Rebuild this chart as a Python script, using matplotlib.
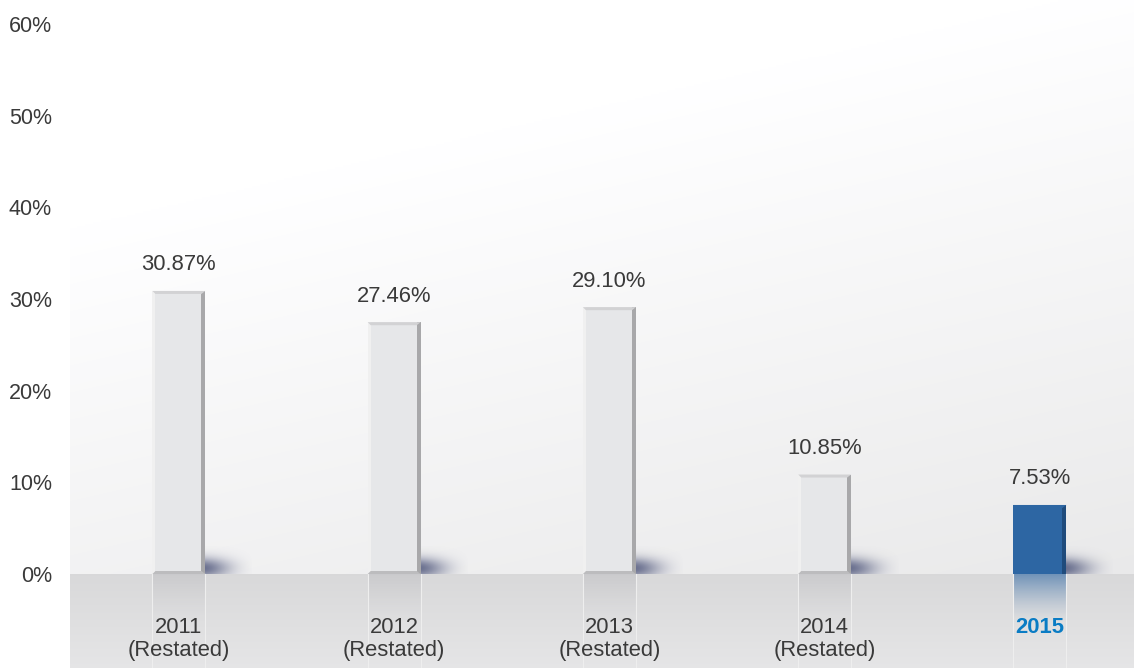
import numpy as np
import matplotlib.pyplot as plt
from matplotlib.patches import Rectangle, Polygon

years = ['2011', '2012', '2013', '2014', '2015']
subs = ['(Restated)', '(Restated)', '(Restated)', '(Restated)', '']
values = [30.87, 27.46, 29.10, 10.85, 7.53]
value_labels = ['30.87%', '27.46%', '29.10%', '10.85%', '7.53%']
yticks = [0, 10, 20, 30, 40, 50, 60]
highlight = 4

W, H = 1134, 668
fig = plt.figure(figsize=(W / 100, H / 100), dpi=100)
fig.patch.set_facecolor('white')

FONT = 'Liberation Sans'
TXT = '#3a3a3a'
FS = 15.8

left_px = 70
ax = fig.add_axes([left_px / W, 0, 1 - left_px / W, 1])
ymin, ymax = -10.25, 62.6
x0 = -0.506
x1 = 4.437
ax.set_xlim(x0, x1)
ax.set_ylim(ymin, ymax)
for s in ax.spines.values():
    s.set_visible(False)
ax.set_xticks([])
ax.set_yticks(yticks)
ax.set_yticklabels([f'{t}%' for t in yticks], fontsize=15.5, color=TXT, family=FONT)
ax.tick_params(axis='y', length=0, pad=13)

# diagonal backdrop: white at top-left fading to light gray toward the floor
nx, ny = 400, 300
px = np.linspace(left_px, W, nx)
py = np.linspace(0, 574, ny)
PX, PY = np.meshgrid(px, py)
t = np.clip((PY + 0.23 * (PX - left_px) - 230) / (574 + 0.23 * 1064 - 230), 0, 1)
g = 1 - 0.085 * t
bg = np.clip(np.dstack([g, g, g * 1.003]), 0, 1)
ax.imshow(bg, extent=[x0, x1, 0, ymax], origin='upper', aspect='auto',
          zorder=0, interpolation='bilinear')

# floor
fl = np.linspace(0.85, 0.9, 100)[:, None] * np.ones((1, 10))
floor = np.dstack([fl, fl, fl * 1.005])
ax.imshow(np.clip(floor, 0, 1), extent=[x0, x1, ymin, 0], origin='upper',
          aspect='auto', zorder=0.5)

bw = 0.246
unit_x = (x1 - x0) / (W - left_px)
unit_y = (ymax - ymin) / H

for i, v in enumerate(values):
    xl = i - bw / 2
    xr = i + bw / 2
    if i == highlight:
        face, side, top, edge = '#2d66a3', '#1f4b7c', '#2d66a3', '#3a73ad'
        refl = np.array([0.18, 0.40, 0.64])
    else:
        face, side, top, edge = '#e6e7e9', '#a8a8aa', '#d2d2d4', '#f0f0f0'
        refl = np.array([0.70, 0.70, 0.72])

    # shadow on the backdrop to the right of the bar base
    sx = np.linspace(0, 1, 60)
    sy = np.linspace(0, 1, 30)
    SX, SY = np.meshgrid(sx, sy)
    a = np.exp(-((SX * 1.5) ** 2)) * np.exp(-((SY - 0.2) / 0.38) ** 2) * (1 - SX) ** 0.6
    shadow = np.zeros((30, 60, 4))
    shadow[..., 0] = 0.33
    shadow[..., 1] = 0.36
    shadow[..., 2] = 0.50
    shadow[..., 3] = 0.85 * a
    ax.imshow(shadow, extent=[xr, xr + 48 * unit_x, 0, 28 * unit_y], origin='lower',
              aspect='auto', zorder=1, interpolation='bilinear')

    # reflection on the floor
    rh = 50 * unit_y
    ry = np.linspace(1, 0, 40)
    ref = np.zeros((40, 2, 4))
    ref[..., :3] = refl
    ref[..., 3] = (0.6 if i == highlight else 0.35) * (ry[:, None] ** 1.5)
    ax.imshow(ref, extent=[xl, xr, -rh, 0], origin='upper', aspect='auto',
              zorder=1, interpolation='bilinear')
    ax.plot([xl, xl], [ymin, 0], color='#eeeeee', lw=0.8, zorder=1)
    ax.plot([xr, xr], [ymin, 0], color='#eeeeee', lw=0.8, zorder=1)

    # bar body with bevelled edges
    ax.bar(i, v, width=bw, color=face, zorder=2, linewidth=0)
    sw = 4 * unit_x
    ax.add_patch(Rectangle((xr - sw, 0), sw, v, color=side, lw=0, zorder=3))
    lw_ = 3 * unit_x
    if i != highlight:
        ax.add_patch(Rectangle((xl, 0), lw_, v, color=edge, lw=0, zorder=3))
    th = 3 * unit_y
    ax.add_patch(Polygon([(xl, v), (xr, v), (xr - sw, v - th), (xl + lw_, v - th)],
                         closed=True, color=top, lw=0, zorder=3))
    if i != highlight:
        ax.add_patch(Polygon([(xl, 0), (xr, 0), (xr - sw, th), (xl + lw_, th)],
                             closed=True, color='#bcbcbe', lw=0, zorder=3))

    ax.text(i, v + 26 * unit_y, value_labels[i], ha='center', va='center',
            fontsize=FS, color=TXT, family=FONT, zorder=4)

    if i == highlight:
        ax.text(i, -5.8, years[i], ha='center', va='center', fontsize=FS,
                color='#0a7cc4', fontweight='bold', family=FONT, zorder=4)
    else:
        ax.text(i, -5.8, years[i], ha='center', va='center', fontsize=FS,
                color=TXT, family=FONT, zorder=4)
        ax.text(i, -8.35, subs[i], ha='center', va='center', fontsize=FS,
                color=TXT, family=FONT, zorder=4)

fig.savefig('out.png', dpi=100, facecolor='white')
